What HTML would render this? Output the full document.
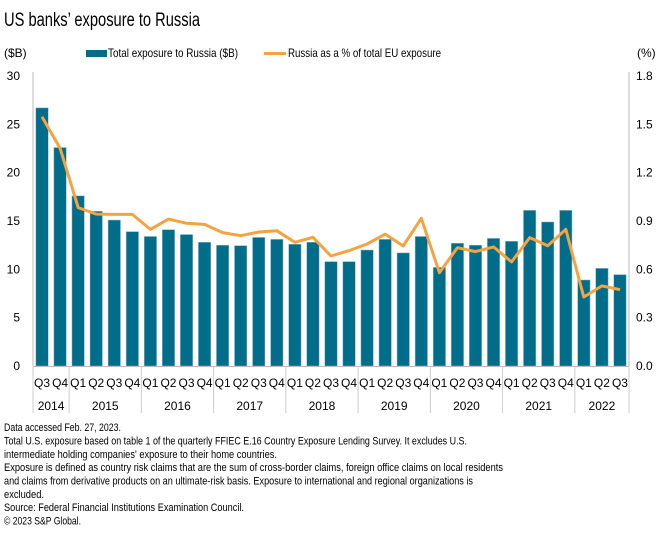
<!DOCTYPE html>
<html><head><meta charset="utf-8"><style>
body{margin:0;background:#fff;}
svg{display:block;font-family:"Liberation Sans",sans-serif;}
</style></head><body>
<svg id="chart" width="660" height="537" viewBox="0 0 660 537">
<text x="4" y="26" font-size="19" fill="#000" textLength="196" lengthAdjust="spacingAndGlyphs">US banks’ exposure to Russia</text>
<text x="4" y="57" font-size="12" fill="#000">($B)</text>
<text x="637" y="57" font-size="12" fill="#000">(%)</text>
<g>
<rect x="86" y="50" width="21" height="7" fill="#006d8a"/>
<text x="108" y="57" font-size="12" textLength="130" lengthAdjust="spacingAndGlyphs">Total exposure to Russia ($B)</text>
<line x1="264" y1="53.5" x2="286" y2="53.5" stroke="#f5a340" stroke-width="3"/>
<text x="288" y="57" font-size="12" textLength="153" lengthAdjust="spacingAndGlyphs">Russia as a % of total EU exposure</text>
</g>
<g id="plot"></g>
<g font-size="11" fill="#000">
<text x="4" y="431" textLength="117" lengthAdjust="spacingAndGlyphs">Data accessed Feb. 27, 2023.</text>
<text x="4" y="444.5" textLength="463" lengthAdjust="spacingAndGlyphs">Total U.S. exposure based on table 1 of the quarterly FFIEC E.16 Country Exposure Lending Survey. It excludes U.S.</text>
<text x="4" y="458" textLength="273" lengthAdjust="spacingAndGlyphs">intermediate holding companies' exposure to their home countries.</text>
<text x="4" y="471" textLength="499" lengthAdjust="spacingAndGlyphs">Exposure is defined as country risk claims that are the sum of cross-border claims, foreign office claims on local residents</text>
<text x="4" y="484.5" textLength="469" lengthAdjust="spacingAndGlyphs">and claims from derivative products on an ultimate-risk basis. Exposure to international and regional organizations is</text>
<text x="4" y="498" textLength="40" lengthAdjust="spacingAndGlyphs">excluded.</text>
<text x="4" y="511" textLength="240" lengthAdjust="spacingAndGlyphs">Source: Federal Financial Institutions Examination Council.</text>
<text x="4" y="524.5" textLength="77" lengthAdjust="spacingAndGlyphs">© 2023 S&amp;P Global.</text>
</g>
</svg>
<script>
const quarters=["Q3","Q4","Q1","Q2","Q3","Q4","Q1","Q2","Q3","Q4","Q1","Q2","Q3","Q4","Q1","Q2","Q3","Q4","Q1","Q2","Q3","Q4","Q1","Q2","Q3","Q4","Q1","Q2","Q3","Q4","Q1","Q2","Q3"];
const years=["2014","2015","2016","2017","2018","2019","2020","2021","2022"];
const yearCounts=[2,4,4,4,4,4,4,4,3];
const exposure=[26.7,22.6,17.6,16.0,15.1,13.9,13.4,14.1,13.6,12.8,12.5,12.45,13.3,13.1,12.6,12.8,10.8,10.8,12.0,13.1,11.7,13.4,10.2,12.7,12.5,13.2,12.9,16.1,14.9,16.1,8.9,10.1,9.45];
const pctEU=[1.547,1.351,0.983,0.943,0.941,0.941,0.848,0.912,0.886,0.879,0.828,0.809,0.832,0.840,0.768,0.799,0.683,0.716,0.757,0.819,0.745,0.917,0.579,0.734,0.710,0.739,0.646,0.797,0.747,0.848,0.428,0.497,0.474];
const leftTicks=[0,5,10,15,20,25,30];
const rightTicks=["0.0","0.3","0.6","0.9","1.2","1.5","1.8"];

const NS="http://www.w3.org/2000/svg";
const g=document.getElementById('plot');
const X0=33,X1=629,Y0=366,Y1=76;
const band=(X1-X0)/quarters.length;
const yL=v=>Y0-(v/30)*(Y0-Y1);
const yR=v=>Y0-(v/1.8)*(Y0-Y1);
const xC=i=>X0+band*(i+0.5);
function mk(t,a,p){const e=document.createElementNS(NS,t);for(const k in a)e.setAttribute(k,a[k]);(p||g).appendChild(e);return e;}

leftTicks.forEach((v,i)=>{const t=mk('text',{x:20,y:yL(v)+4,'font-size':12,'text-anchor':'end'});t.textContent=v;

});
rightTicks.forEach((v,i)=>{const t=mk('text',{x:636,y:yR(parseFloat(v))+4,'font-size':12});t.textContent=v;

});

exposure.forEach((v,i)=>{const r=mk('rect',{x:xC(i)-6.2,y:yL(v),width:12.4,height:Y0-yL(v),fill:'#006d8a',stroke:'#9fb8c4','stroke-width':0.5});

});

const pts=pctEU.map((v,i)=>xC(i).toFixed(1)+','+yR(v).toFixed(1)).join(' ');
const pl=mk('polyline',{points:pts,fill:'none',stroke:'#f5a340','stroke-width':3,'stroke-linejoin':'round'});



const la=mk('line',{x1:X0,y1:Y1-4,x2:X0,y2:Y0,stroke:'#bbb','stroke-width':1});


const ra=mk('line',{x1:X1,y1:Y1-4,x2:X1,y2:Y0,stroke:'#bbb','stroke-width':1});


const xa=mk('line',{x1:X0,y1:Y0+0.5,x2:X1,y2:Y0+0.5,stroke:'#bbb','stroke-width':1});



quarters.forEach((q,i)=>{const t=mk('text',{x:xC(i),y:387,'font-size':12,'text-anchor':'middle'});t.textContent=q;

});
let idx=0;
years.forEach((y,k)=>{const xs=X0+band*idx;const xe=X0+band*(idx+yearCounts[k]);
const d=mk('line',{x1:xs,y1:Y0,x2:xs,y2:413,stroke:'#ccc','stroke-width':1});


const t=mk('text',{x:(xs+xe)/2,y:410,'font-size':12,'text-anchor':'middle'});t.textContent=y;


idx+=yearCounts[k];});
const dl=mk('line',{x1:X1,y1:Y0,x2:X1,y2:413,stroke:'#ccc','stroke-width':1});


</script>
</body></html>
